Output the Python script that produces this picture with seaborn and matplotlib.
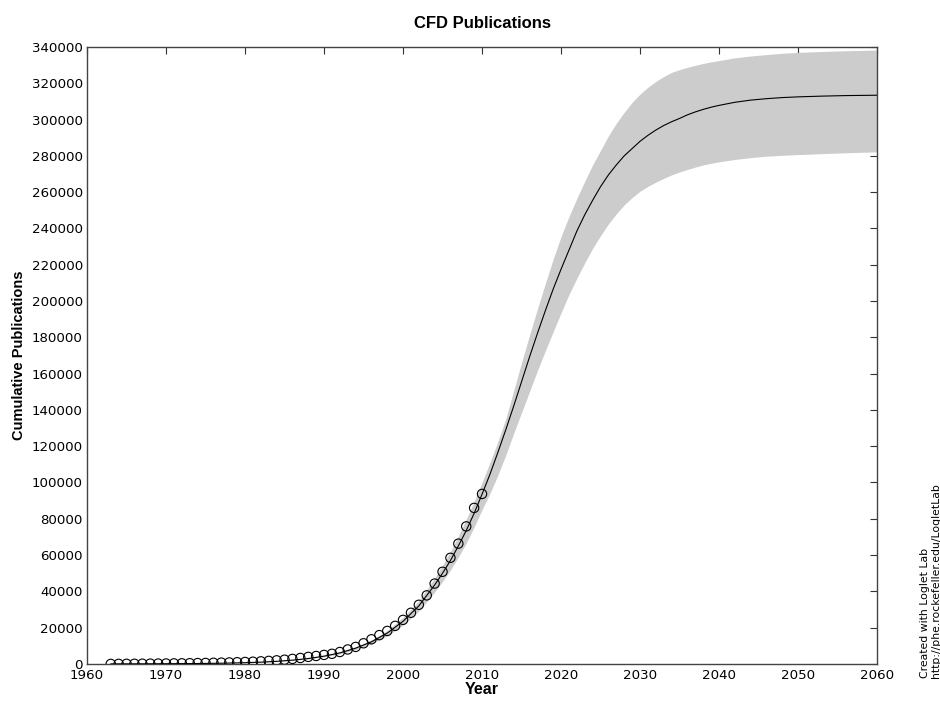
import matplotlib
matplotlib.use("Agg")
import matplotlib.pyplot as plt
import matplotlib.ticker as mticker
import numpy as np
import pandas as pd
import seaborn as sns

# ---------------- data ----------------
obs_years = list(range(1963, 2011))
obs_values = [30, 60, 90, 120, 150, 190, 230, 270, 320, 370,
              430, 500, 570, 650, 740, 840, 960, 1100, 1250, 1450,
              1700, 2000, 2350, 2800, 3300, 3900, 4400, 5000, 5600, 6600,
              8000, 9400, 11400, 13600, 15900, 18200, 21000, 24300, 28200, 32600,
              37800, 44300, 50800, 58500, 66300, 75800, 86000, 93700]

fit_years = [1963, 1966, 1970, 1974, 1977, 1980, 1982, 1984, 1986, 1988,
             1990, 1992, 1994, 1996, 1998, 2000, 2002, 2004, 2005, 2006,
             2007, 2008, 2009, 2010, 2011, 2012, 2013, 2014, 2015, 2016,
             2017, 2018, 2019, 2020, 2021, 2022, 2023, 2024, 2025, 2026,
             2027, 2028, 2029, 2030, 2031, 2032, 2033, 2034, 2035, 2036,
             2037, 2038, 2039, 2040, 2042, 2044, 2046, 2048, 2050, 2053,
             2056, 2060]
fit_values = [45, 70, 130, 250, 420, 700, 1000, 1450, 2100, 3000,
              4300, 6100, 8700, 12200, 17000, 23500, 32000, 43500, 50000, 57000,
              65000, 73500, 83000, 93500, 104500, 116500, 129000, 142000, 155500, 169000,
              182000, 194500, 206500, 217500, 228000, 238500, 247500, 255500, 263000, 269500,
              275000, 280000, 284000, 288000, 291300, 294200, 296700, 298800, 300600, 302600,
              304200, 305600, 306800, 307800, 309500, 310700, 311500, 312100, 312500, 312900,
              313200, 313400]
upper_values = [49, 76, 140, 270, 455, 760, 1090, 1580, 2290, 3270,
                4690, 6650, 9480, 13300, 18500, 25600, 34800, 47300, 54300, 61900,
                70500, 79700, 89500, 100000, 111000, 122500, 135000, 150500, 166000, 181000,
                195500, 209500, 223000, 235500, 246500, 256500, 266000, 275000, 283000, 291000,
                298000, 304000, 309500, 314000, 317800, 321000, 323700, 326000, 327500, 328800,
                329900, 330900, 331800, 332500, 334000, 335000, 335800, 336500, 337000, 337500,
                337900, 338300]
lower_values = [41, 64, 118, 228, 382, 637, 910, 1320, 1910, 2730,
                3910, 5550, 7920, 11100, 15500, 21400, 29100, 39600, 45500, 51800,
                58900, 66600, 75500, 85000, 94000, 104000, 115000, 127000, 138500, 150000,
                161500, 172500, 183000, 193500, 203500, 212500, 221000, 229000, 236000, 242500,
                248000, 253000, 257000, 260500, 263200, 265500, 267600, 269500, 271100, 272500,
                273800, 275000, 275900, 276700, 278000, 279000, 279800, 280300, 280700, 281200,
                281700, 282200]

x_ticks = list(range(1960, 2061, 10))
y_ticks = list(range(0, 340001, 20000))

title = "CFD Publications"
x_label = "Year"
y_label = "Cumulative Publications"
credit_1 = "Created with Loglet Lab"
credit_2 = "http://phe.rockefeller.edu/LogletLab"

# ---------------- plotting ----------------
sns.set_style("white")
plt.rcParams["font.family"] = ["DejaVu Sans"]
plt.rcParams["text.color"] = "black"
plt.rcParams["axes.labelcolor"] = "black"
plt.rcParams["axes.titlecolor"] = "black"

obs = pd.DataFrame({"year": obs_years, "value": obs_values})
fit = pd.DataFrame({"year": fit_years, "value": fit_values,
                    "upper": upper_values, "lower": lower_values})

fig = plt.figure(figsize=(9.4, 7.05), dpi=100)
ax = fig.add_axes([0.0926, 0.0582, 0.8404, 0.8752])

ax.fill_between(fit["year"], fit["lower"], fit["upper"],
                color="#cccccc", linewidth=0, zorder=1)
sns.lineplot(data=fit, x="year", y="value", ax=ax, color="black",
             linewidth=0.8, zorder=3, estimator=None, sort=False)
sns.scatterplot(data=obs, x="year", y="value", ax=ax, marker="o",
                s=45, facecolor="none", edgecolor="black", linewidth=0.8,
                zorder=4)

ax.set_xlim(1960, 2060)
ax.set_ylim(0, 340000)
ax.set_xticks(x_ticks)
ax.set_yticks(y_ticks)
ax.yaxis.set_major_formatter(mticker.FuncFormatter(lambda v, p: f"{int(v)}"))

ax.tick_params(direction="in", length=5, width=0.8, colors="#333333",
               labelcolor="black", labelsize=9.6, top=True, right=True)
ax.tick_params(axis="y", pad=3)
ax.tick_params(axis="x", pad=3.5)
for s in ax.spines.values():
    s.set_color("#444444")
    s.set_linewidth(1.0)
    s.set_visible(True)

bold = {"family": "Liberation Sans", "weight": "bold"}
ax.set_title(title, fontsize=12, pad=14, fontdict=bold)
ax.set_xlabel(x_label, fontsize=11.5, labelpad=0, fontdict=bold)
ax.set_ylabel(y_label, fontsize=10.5, labelpad=4, fontdict=bold)

fig.text(925 / 940, 0.038, credit_1, rotation=90, fontsize=7.8,
         ha="center", va="bottom", family="DejaVu Sans")
fig.text(936 / 940, 0.038, credit_2, rotation=90, fontsize=7.8,
         ha="center", va="bottom", family="DejaVu Sans")

fig.savefig("out.png", dpi=100, facecolor="white")
